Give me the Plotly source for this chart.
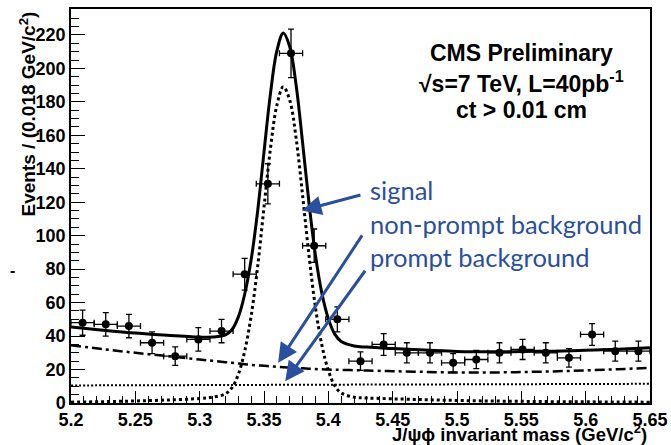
import numpy as np
import plotly.graph_objects as go

# ---- data ----
bin_centers = [5.209, 5.227, 5.245, 5.263, 5.281, 5.299, 5.317, 5.335, 5.353, 5.371,
               5.389, 5.407, 5.425, 5.443, 5.461, 5.479, 5.497, 5.515, 5.533, 5.551,
               5.569, 5.587, 5.605, 5.623, 5.641]
counts = [48, 47, 46, 36, 28, 38, 43, 77, 131, 209,
          94, 50, 25, 35, 30, 30, 24, 26, 30, 32,
          30, 27, 41, 31, 31]
count_err = [7.5, 7, 7, 6.5, 5.5, 7, 7, 9.5, 12, 14.5,
             10, 7.5, 5.5, 6.5, 6, 6, 5.5, 5.5, 6, 6,
             6, 5.5, 6.5, 6, 6]
bin_half_width = 0.009

curve_x = [5.2, 5.225, 5.25, 5.275, 5.3, 5.31, 5.32, 5.325, 5.33, 5.335,
           5.34, 5.345, 5.35, 5.355, 5.36, 5.365, 5.37, 5.375, 5.38, 5.385,
           5.39, 5.395, 5.40, 5.405, 5.41, 5.42, 5.43, 5.45, 5.475, 5.5,
           5.525, 5.55, 5.575, 5.6, 5.625, 5.65]
signal = [0.5, 0.8, 1.2, 1.8, 2.7, 3.5, 5.5, 9, 17, 31,
          52, 81, 117, 152, 178, 189, 181, 158, 124, 88,
          57, 34.5, 19.5, 10.3, 6, 3.5, 3, 2.5, 2, 1.5,
          1.2, 1, 0.8, 0.7, 0.6, 0.5]
nonprompt = [34.5, 32.2, 30, 28, 26, 25.2, 24.4, 24, 23.6, 23.2,
             22.8, 22.5, 22.2, 21.9, 21.6, 21.3, 21.1, 20.9, 20.7, 20.5,
             20.3, 20.1, 20, 19.9, 19.8, 19.6, 19.4, 19, 18.6, 18.2,
             18.2, 18.5, 18.9, 19.5, 20.2, 21]
prompt = [10.5, 10.55, 10.6, 10.65, 10.7, 10.7, 10.75, 10.75, 10.75, 10.8,
          10.8, 10.8, 10.8, 10.85, 10.85, 10.85, 10.85, 10.9, 10.9, 10.9,
          10.9, 10.95, 10.95, 10.95, 10.95, 11, 11, 11.05, 11.1, 11.15,
          11.2, 11.25, 11.3, 11.35, 11.4, 11.5]
total = (np.array(signal) + np.array(nonprompt) + np.array(prompt)).tolist()

x_ticks = [5.2, 5.25, 5.3, 5.35, 5.4, 5.45, 5.5, 5.55, 5.6, 5.65]
x_tick_labels = ["5.2", "5.25", "5.3", "5.35", "5.4", "5.45", "5.5", "5.55", "5.6", "5.65"]
y_ticks = [0, 20, 40, 60, 80, 100, 120, 140, 160, 180, 200, 220]

# ---- layout geometry (pixels) ----
W, H = 671, 445
L, R, T, B = 71, 21, 9, 42
PW, PH = W - L - R, H - T - B


def px(xp):
    return (xp - L) / PW


def py(yp):
    return (H - B - yp) / PH


BLUE = "#2a4f9e"
FONT = "Liberation Sans, Arial, Helvetica, sans-serif"

fig = go.Figure()

fig.add_trace(go.Scatter(x=curve_x, y=prompt, mode="lines", line_shape="spline",
                         line=dict(color="black", width=2, dash="2px,2px"), showlegend=False))
fig.add_trace(go.Scatter(x=curve_x, y=nonprompt, mode="lines", line_shape="spline",
                         line=dict(color="black", width=2.5, dash="10px,4px,3px,4px"), showlegend=False))
fig.add_trace(go.Scatter(x=curve_x, y=signal, mode="lines", line_shape="spline",
                         line=dict(color="black", width=3, dash="dot"), showlegend=False))
fig.add_trace(go.Scatter(x=curve_x, y=total, mode="lines", line_shape="spline",
                         line=dict(color="black", width=3), showlegend=False))
fig.add_trace(go.Scatter(
    x=bin_centers, y=counts, mode="markers",
    marker=dict(color="black", size=8),
    error_y=dict(type="data", array=count_err, color="black", thickness=1.3, width=3),
    error_x=dict(type="constant", value=bin_half_width, color="black", thickness=1.3, width=3),
    showlegend=False))

annotations = []
# CMS text block
for text, yc in [("CMS Preliminary", 53), ("√s=7 TeV, L=40pb<sup>-1</sup>", 82), ("ct > 0.01 cm", 110)]:
    annotations.append(dict(text=text, xref="paper", yref="paper", x=px(521), y=py(yc),
                            xanchor="center", yanchor="middle", showarrow=False,
                            font=dict(family=FONT, size=23, color="black", weight="bold")))
# blue labels
for text, yc in [("signal", 190), ("non-prompt background", 224), ("prompt background", 257)]:
    annotations.append(dict(text=text, xref="paper", yref="paper", x=px(368), y=py(yc),
                            xanchor="left", yanchor="middle", showarrow=False,
                            font=dict(family="Lato, Open Sans, sans-serif", size=25.5, color=BLUE)))
# blue arrows (tip in data coords, tail offset in px)
for tx, ty, ax, ay in [(5.3795, 115, 60, -16), (5.361, 24, 85, -129), (5.3665, 13, 81, -112)]:
    annotations.append(dict(x=tx, y=ty, xref="x", yref="y", ax=ax, ay=ay, axref="pixel", ayref="pixel",
                            text="", showarrow=True, arrowhead=2, arrowsize=1.3, arrowwidth=3,
                            arrowcolor=BLUE))
# axis titles
annotations.append(dict(text="<b>Events / (0.018 GeV/c<sup>2</sup>)</b>", xref="paper", yref="paper",
                        x=px(28), y=py(10), xanchor="center", yanchor="top", textangle=-90,
                        showarrow=False, font=dict(family=FONT, size=19, color="black")))
annotations.append(dict(text="<b>J/ψϕ invariant mass (GeV/c<sup>2</sup>)</b>", xref="paper", yref="paper",
                        x=px(649), y=py(433), xanchor="right", yanchor="middle",
                        showarrow=False, font=dict(family=FONT, size=18.5, color="black")))
annotations.append(dict(text="<b>-</b>", xref="paper", yref="paper", x=px(12), y=py(270),
                        xanchor="center", yanchor="middle", showarrow=False,
                        font=dict(family=FONT, size=16, color="black")))

fig.update_layout(
    width=W, height=H,
    margin=dict(l=L, r=R, t=T, b=B, autoexpand=False),
    paper_bgcolor="white", plot_bgcolor="white",
    annotations=annotations,
    xaxis=dict(range=[5.2, 5.65], tickvals=x_ticks, ticktext=x_tick_labels,
               ticks="inside", ticklen=12, tickwidth=1.2, tickcolor="black",
               minor=dict(dtick=0.01, tick0=5.2, ticks="inside", ticklen=7, tickwidth=1, tickcolor="black"),
               showline=True, linecolor="black", linewidth=1.5, mirror=True,
               showgrid=False, zeroline=False, automargin=False,
               tickfont=dict(family=FONT, size=18, color="black", weight="bold")),
    yaxis=dict(range=[0, 235.5], tickvals=y_ticks,
               ticks="inside", ticklen=14, tickwidth=1.2, tickcolor="black",
               minor=dict(dtick=5, tick0=0, ticks="inside", ticklen=8, tickwidth=1, tickcolor="black"),
               showline=True, linecolor="black", linewidth=1.5, mirror=True,
               showgrid=False, zeroline=False, automargin=False,
               tickfont=dict(family=FONT, size=18, color="black", weight="bold")),
)

fig.write_html("out.html", config={"displayModeBar": False},
               post_script="document.body.style.margin='0';document.body.style.padding='0';")
